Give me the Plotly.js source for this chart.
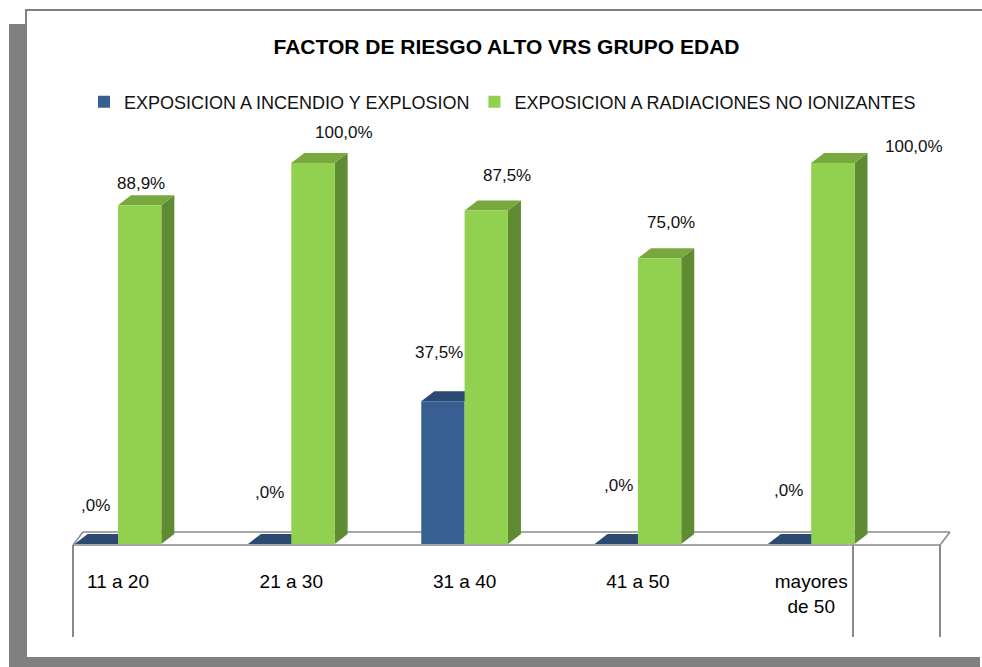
<!DOCTYPE html>
<html>
<head>
<meta charset="utf-8">
<script src="https://cdn.plot.ly/plotly-3.0.1.min.js"></script>
<style>
html,body{margin:0;padding:0;background:#fff;}
#chart{width:982px;height:667px;}
</style>
</head>
<body>
<div id="chart"></div>
<script>
// ---- data ----
const categories = ["11 a 20", "21 a 30", "31 a 40", "41 a 50", "mayores<br>de 50"];
const seriesNames = ["EXPOSICION A INCENDIO Y EXPLOSION", "EXPOSICION A RADIACIONES NO IONIZANTES"];
const incendio = [0, 0, 37.5, 0, 0];
const radiaciones = [88.9, 100, 87.5, 75, 100];
const chartTitle = "FACTOR DE RIESGO ALTO VRS GRUPO EDAD";

// ---- style / layout constants ----
const W = 982, H = 667;
const L = 73, R = 940, T = 120, B = 544;       // plot area in pixels
const pxPerCat = 173.3, firstCatPx = 118;
const pxPerUnit = 3.81;
const barW = 0.25;
const depthX = 13 / pxPerCat, depthY = 10 / pxPerUnit;
const blue = "#375F92", blueTop = "#2B4A72";
const green = "#92D050", greenTop = "#78A83E", greenSide = "#5F8B32";
const frameGray = "#808080", lineGray = "#8A8A8A";
// label pixel offsets (manual placement in the original)
const blueLabelShift = [[-1, 39], [0, 52], [-4, 49], [2, 59], [-1, 54]];
const greenLabelShift = [[1, 22], [31, 31], [21, 35], [11, 36], [81, 17]];

const px2x = p => (p - L) / (R - L);
const py2y = p => (B - p) / (B - T);
const xs = categories.map((_, i) => i);
const xRange = [(L - firstCatPx) / pxPerCat, (R - firstCatPx) / pxPerCat];
const yRange = [0, (B - T) / pxPerUnit];
const fmt = v => (v === 0 ? "" : Math.floor(v).toString()) + "," + Math.round((v % 1) * 10) + "%";

const traces = [
  {type: "bar", name: seriesNames[0], x: xs, y: incendio, width: barW, offset: -barW,
   marker: {color: blue, line: {width: 0}}, hoverinfo: "skip"},
  {type: "bar", name: seriesNames[1], x: xs, y: radiaciones, width: barW, offset: 0,
   marker: {color: green, line: {width: 0}}, hoverinfo: "skip"}
];

const shapes = [];
function rectPx(x0, y0, x1, y1, color) {
  shapes.push({type: "rect", xref: "paper", yref: "paper", layer: "below",
    x0: px2x(x0), x1: px2x(x1), y0: py2y(y0), y1: py2y(y1),
    fillcolor: color, line: {width: 0}});
}
function linePx(x0, y0, x1, y1, color, w) {
  shapes.push({type: "line", xref: "paper", yref: "paper", layer: "below",
    x0: px2x(x0), x1: px2x(x1), y0: py2y(y0), y1: py2y(y1),
    line: {color: color, width: w}});
}
// frame / shadow
rectPx(9, 24, 27, 667, frameGray);
rectPx(9, 657, 980, 667, frameGray);
rectPx(25, 9, 982, 11, frameGray);
rectPx(25, 9, 27, 24, frameGray);
// floor and table lines
linePx(83, 532, 950, 532, lineGray, 1.5);
linePx(L, 545, R, 545, lineGray, 1.5);
linePx(L, 545, 83, 532, lineGray, 1.5);
linePx(R, 545, 950, 532, lineGray, 1.5);
linePx(L, 545, L, 637, lineGray, 2);
linePx(853, 545, 853, 637, lineGray, 2);
linePx(R, 545, R, 637, lineGray, 2);

function poly(pts, color) {
  const d = "M" + pts.map(p => p[0] + "," + p[1]).join(" L") + " Z";
  shapes.push({type: "path", xref: "x", yref: "y", layer: "below", path: d,
    fillcolor: color, line: {width: 0}});
}
// 3D faces derived from data
xs.forEach(i => {
  const v = incendio[i];
  const a = i - barW, b = i;
  poly([[a, v], [b, v], [b + depthX, v + depthY], [a + depthX, v + depthY]], blueTop);
});
xs.forEach(i => {
  const v = radiaciones[i];
  const a = i, b = i + barW;
  poly([[b, 0], [b, v], [b + depthX, v + depthY], [b + depthX, depthY]], greenSide);
  poly([[a, v], [b, v], [b + depthX, v + depthY], [a + depthX, v + depthY]], greenTop);
});

const annotations = [];
const labelFont = {family: "Liberation Sans, Arial, sans-serif", size: 17, color: "#111"};
xs.forEach(i => {
  annotations.push({x: i - barW / 2, y: incendio[i], xref: "x", yref: "y", text: fmt(incendio[i]),
    showarrow: false, xanchor: "center", yanchor: "middle",
    xshift: blueLabelShift[i][0], yshift: blueLabelShift[i][1], font: labelFont});
  annotations.push({x: i + barW / 2, y: radiaciones[i], xref: "x", yref: "y", text: fmt(radiaciones[i]),
    showarrow: false, xanchor: "center", yanchor: "middle",
    xshift: greenLabelShift[i][0], yshift: greenLabelShift[i][1], font: labelFont});
});

const layout = {
  width: W, height: H,
  margin: {l: L, r: W - R, t: T, b: H - B, pad: 0},
  paper_bgcolor: "#fff", plot_bgcolor: "rgba(0,0,0,0)",
  title: {text: "<b>" + chartTitle + "</b>", xref: "paper", x: 0.5, xanchor: "center",
    yref: "container", y: 1 - 47 / H, yanchor: "middle",
    font: {family: "Liberation Sans, Arial, sans-serif", size: 21, color: "#000"}},
  barmode: "overlay",
  showlegend: true,
  legend: {orientation: "h", xref: "paper", yref: "paper", x: px2x(84), xanchor: "left",
    y: py2y(102), yanchor: "middle", bgcolor: "rgba(0,0,0,0)",
    font: {family: "Liberation Sans, Arial, sans-serif", size: 18, color: "#111"},
    itemclick: false, itemdoubleclick: false, traceorder: "normal"},
  xaxis: {type: "linear", range: xRange, tickvals: xs, ticktext: categories,
    showgrid: false, zeroline: false, showline: false, ticks: "",
    tickfont: {family: "Liberation Sans, Arial, sans-serif", size: 19, color: "#000"},
    ticklabelstandoff: 24, fixedrange: true},
  yaxis: {range: yRange, visible: false, showgrid: false, zeroline: false, fixedrange: true},
  shapes: shapes,
  annotations: annotations
};

Plotly.newPlot("chart", traces, layout, {displayModeBar: false, staticPlot: true});
</script>
</body>
</html>
